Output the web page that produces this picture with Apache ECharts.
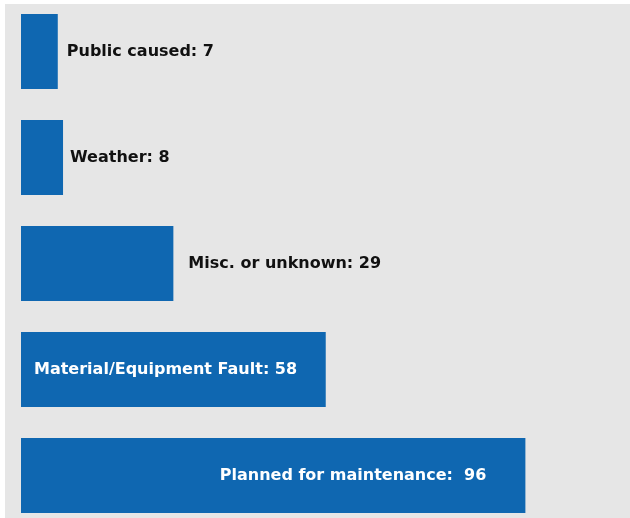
<!DOCTYPE html>
<html>
<head>
<meta charset="utf-8">
<script src="https://cdn.jsdelivr.net/npm/echarts@6/dist/echarts.min.js"></script>
<style>html,body{margin:0;padding:0;background:#fff;}#c{width:630px;height:518px;}</style>
</head>
<body>
<div id="c"></div>
<script>
const categories = ['Public caused', 'Weather', 'Misc. or unknown', 'Material/Equipment Fault', 'Planned for maintenance'];
const values = [7, 8, 29, 58, 96];
const labelTexts = ['Public caused: 7', 'Weather: 8', 'Misc. or unknown: 29', 'Material/Equipment Fault: 58', 'Planned for maintenance:  96'];

const labelStyles = [
  {position: 'right', distance: 9, color: '#111'},
  {position: 'right', distance: 7, color: '#111'},
  {position: 'right', distance: 15, color: '#111'},
  {position: 'insideLeft', distance: 13, color: '#fff'},
  {position: 'insideRight', distance: 39, color: '#fff'}
];

const chart = echarts.init(document.getElementById('c'), null, {renderer: 'canvas'});
chart.setOption({
  animation: false,
  graphic: [{type: 'rect', z: -10, shape: {x: 5, y: 4, width: 625, height: 514}, style: {fill: '#e6e6e6'}}],
  grid: {left: 21, top: -1.5, width: 525.4, height: 530, outerBoundsMode: 'none', containLabel: false},
  xAxis: {type: 'value', min: 0, max: 100, show: false},
  yAxis: {type: 'category', data: categories, inverse: true, show: false},
  series: [{
    type: 'bar',
    barWidth: 75,
    itemStyle: {color: '#0f67b1'},
    data: values.map((v, i) => ({
      value: v,
      label: {
        show: true,
        position: labelStyles[i].position,
        distance: labelStyles[i].distance,
        color: labelStyles[i].color,
        fontFamily: 'DejaVu Sans',
        fontWeight: 'bold',
        fontSize: 16,
        formatter: () => labelTexts[i]
      }
    }))
  }]
});
</script>
</body>
</html>
